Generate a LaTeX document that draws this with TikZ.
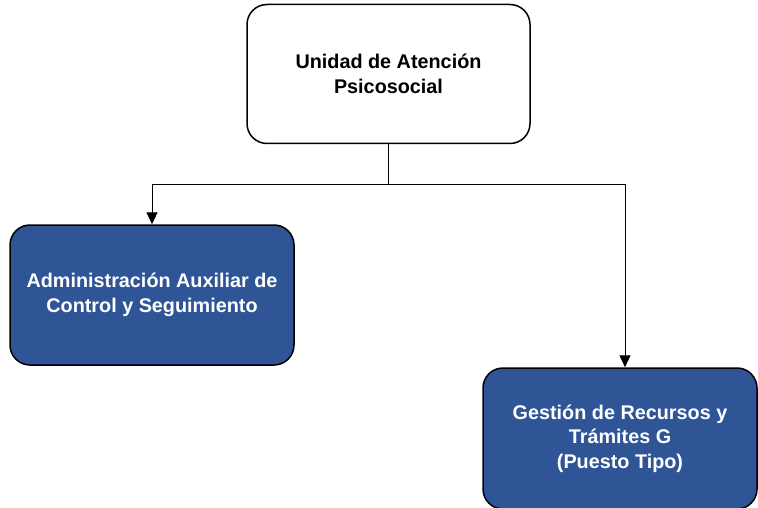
\documentclass[tikz,border=0pt]{standalone}
\usepackage{fontspec}
\setmainfont{Liberation Sans}
\usetikzlibrary{arrows.meta, positioning}
\definecolor{unitblue}{RGB}{47,85,151}
\tikzset{
    box/.style={
        draw,
        line width=1.5pt,
        rounded corners=20pt,
        minimum width=283pt,
        minimum height=139pt,
        align=center,
        fill=white,
        font=\fontsize{19.8}{24.5}\selectfont\bfseries
    },
    bluebox/.style={
        box,
        fill=unitblue,
        text=white
    },
    line/.style={-{Triangle[length=12pt,width=11pt]}, line width=1pt},
    plainline/.style={line width=1pt}
}
\begin{document}
\begin{tikzpicture}[x=1pt, y=1pt]
\useasboundingbox (0,0) rectangle (758,-508);

\node[box] (unidad) at (388.5,-74) {Unidad de Atención\\Psicosocial};
\node[bluebox, minimum width=284pt, minimum height=140pt] (admin) at (152,-295) {Administración Auxiliar de\\Control y Seguimiento};
\node[bluebox, minimum width=274pt, minimum height=141pt] (gestion) at (620,-438.5) {Gestión de Recursos y\\Trámites G\\(Puesto Tipo)};

\coordinate (bus) at (388.5,-185);
\draw[plainline] (unidad.south) -- (bus);
\draw[line] (bus) -| (admin.north);
\draw[line] (bus) -| ([xshift=5pt]gestion.north);
\end{tikzpicture}
\end{document}
